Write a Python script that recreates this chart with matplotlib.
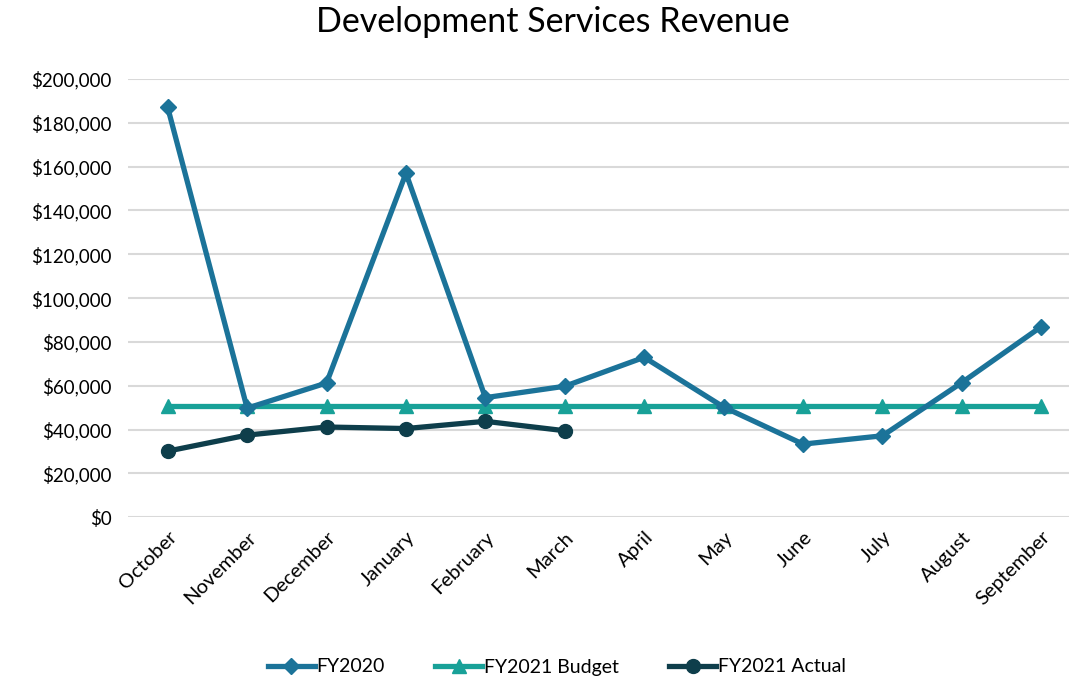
import numpy as np
import matplotlib.pyplot as plt
from matplotlib.ticker import FuncFormatter

plt.rcParams['font.family'] = ['Lato', 'DejaVu Sans']

months = ['October', 'November', 'December', 'January', 'February', 'March',
          'April', 'May', 'June', 'July', 'August', 'September']
fy2020 = [187000, 49800, 61300, 157000, 54600, 59800,
          73000, 50300, 33400, 37200, 61500, 87000]
budget = [51000] * 12
actual = [30200, 37500, 41200, 40500, 43800, 39500]

c_fy2020 = '#1B7399'
c_budget = '#18A198'
c_actual = '#0E3E4B'

fig = plt.figure(figsize=(10.69, 6.81), dpi=100)
ax = fig.add_axes([128 / 1069, 1 - 517.3 / 681, 953 / 1069, (517.3 - 79) / 681])

x = np.arange(len(months))
ax.plot(x, fy2020, color=c_fy2020, lw=3.8, marker='D', ms=8, label='FY2020', zorder=3)
ax.plot(x, budget, color=c_budget, lw=3.8, marker='^', ms=10, label='FY2021 Budget', zorder=2)
ax.plot(x[:len(actual)], actual, color=c_actual, lw=3.8, marker='o', ms=10,
        label='FY2021 Actual', zorder=4)

ax.set_xlim(-0.5, len(months) - 0.5)
ax.set_ylim(0, 200000)
ax.set_yticks(np.arange(0, 200001, 20000))
ax.yaxis.set_major_formatter(FuncFormatter(lambda v, p: f'${v:,.0f}'))
ax.set_xticks(x)
ax.set_xticklabels(months, rotation=45, ha='right', rotation_mode='anchor')
ax.tick_params(axis='both', length=0, colors='black')
ax.tick_params(axis='y', pad=12, labelsize=13.5)
ax.tick_params(axis='x', pad=8, labelsize=14.5)
ax.grid(axis='y', color='#D9D9D9', lw=1.5)
ax.set_axisbelow(True)
for s in ax.spines.values():
    s.set_visible(False)

fig.suptitle('Development Services Revenue', x=553 / 1069, y=1 - 22 / 681,
             va='center', fontsize=24.5)
fig.legend(loc='center', bbox_to_anchor=(557 / 1069, 1 - 667 / 681), ncol=3,
           frameon=False, fontsize=14, handlelength=2.4, columnspacing=2.6,
           handletextpad=0.1)

fig.savefig('out.png', dpi=100)
